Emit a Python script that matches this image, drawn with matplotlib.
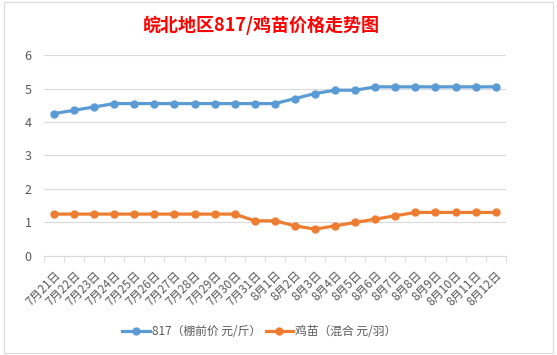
import matplotlib.pyplot as plt
from matplotlib.patches import Rectangle

plt.rcParams['font.family'] = ['Noto Sans CJK SC', 'DejaVu Sans']

dates = ["7月21日", "7月22日", "7月23日", "7月24日", "7月25日", "7月26日", "7月27日",
         "7月28日", "7月29日", "7月30日", "7月31日", "8月1日", "8月2日", "8月3日",
         "8月4日", "8月5日", "8月6日", "8月7日", "8月8日", "8月9日", "8月10日",
         "8月11日", "8月12日"]
price_817 = [4.25, 4.35, 4.45, 4.55, 4.55, 4.55, 4.55, 4.55, 4.55, 4.55, 4.55, 4.55,
             4.7, 4.85, 4.95, 4.95, 5.05, 5.05, 5.05, 5.05, 5.05, 5.05, 5.05]
price_chick = [1.25, 1.25, 1.25, 1.25, 1.25, 1.25, 1.25, 1.25, 1.25, 1.25, 1.05, 1.05,
               0.9, 0.8, 0.9, 1.0, 1.1, 1.2, 1.3, 1.3, 1.3, 1.3, 1.3]
series_names = ["817（棚前价 元/斤）", "鸡苗（混合 元/羽）"]

fig = plt.figure(figsize=(5.57, 3.55), dpi=100)
fig.patches.append(Rectangle((0.008, 0.006), 0.984, 0.988, transform=fig.transFigure,
                             fill=False, edgecolor="#d9d9d9", linewidth=0.8))
ax = fig.add_axes([0.079, 0.279, 0.829, 0.566])

x = range(len(dates))
ax.plot(x, price_817, color="#5B9BD5", linewidth=2.3, marker="o", markersize=5,
        label=series_names[0])
ax.plot(x, price_chick, color="#ED7D31", linewidth=2.3, marker="o", markersize=5,
        label=series_names[1])

ax.set_xlim(-0.5, len(dates) - 0.5)
ax.set_ylim(0, 6)
ax.set_yticks(range(7))
ax.grid(axis="y", color="#d9d9d9", linewidth=0.8)
ax.set_axisbelow(True)
for s in ["top", "right", "left"]:
    ax.spines[s].set_visible(False)
ax.spines["bottom"].set_color("#d9d9d9")
ax.tick_params(axis="y", length=0, labelsize=9, labelcolor="#595959", pad=9)
ax.set_xticks(list(x))
ax.set_xticklabels(dates, rotation=45, ha="right", rotation_mode="anchor",
                   fontsize=8.5, color="#595959")
ax.tick_params(axis="x", which="major", length=0, pad=9)
ax.set_xticks([i - 0.5 for i in range(len(dates) + 1)], minor=True)
ax.tick_params(axis="x", which="minor", length=4, color="#d9d9d9")

fig.text(0.469, 0.929, "皖北地区817/鸡苗价格走势图", color="#FF0000", fontsize=13,
         fontweight="bold", ha="center", va="center")
fig.legend(loc="center", bbox_to_anchor=(0.466, 0.065), ncol=2, frameon=False,
           fontsize=8.5, labelcolor="#595959", handlelength=2.3, columnspacing=0.4,
           handletextpad=0.2)

fig.savefig("out.png", dpi=100)
